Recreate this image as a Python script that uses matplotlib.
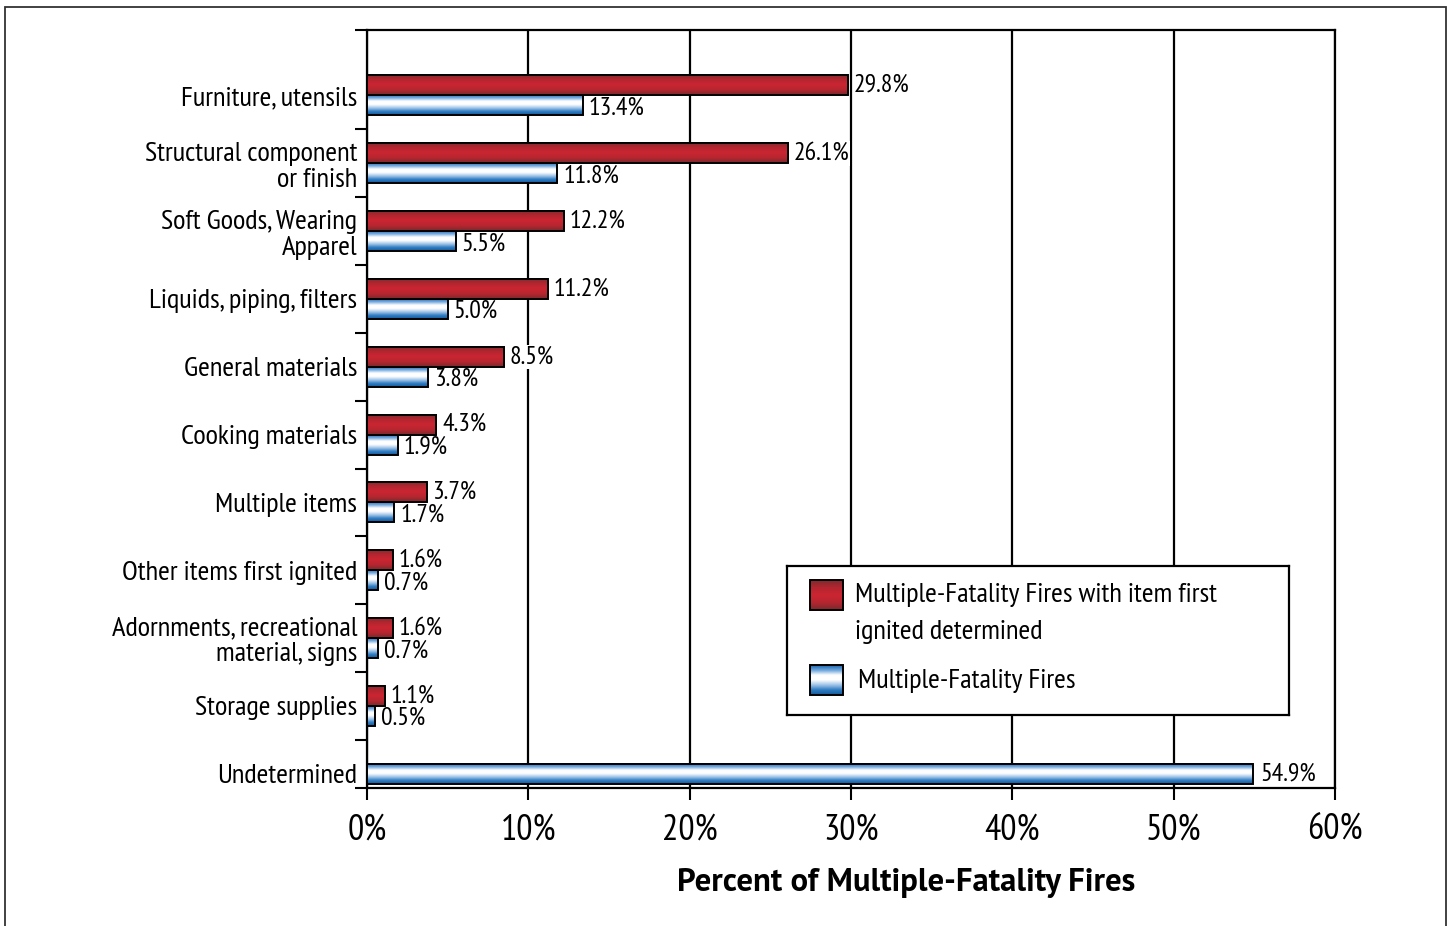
import numpy as np
import matplotlib.pyplot as plt
from matplotlib.colors import LinearSegmentedColormap
from matplotlib.patches import Rectangle

NARROW = ['PT Sans Narrow', 'Roboto Condensed', 'Archivo Narrow', 'Liberation Sans', 'DejaVu Sans']
BOLD = ['PT Sans', 'Open Sans', 'DejaVu Sans']
plt.rcParams['font.family'] = NARROW

# data
categories = ['Furniture, utensils', 'Structural component\nor finish',
              'Soft Goods, Wearing\nApparel', 'Liquids, piping, filters',
              'General materials', 'Cooking materials', 'Multiple items',
              'Other items first ignited', 'Adornments, recreational\nmaterial, signs',
              'Storage supplies', 'Undetermined']
with_item = [29.8, 26.1, 12.2, 11.2, 8.5, 4.3, 3.7, 1.6, 1.6, 1.1, np.nan]
all_fires = [13.4, 11.8, 5.5, 5.0, 3.8, 1.9, 1.7, 0.7, 0.7, 0.5, 54.9]
xticks = [0, 10, 20, 30, 40, 50, 60]
series_names = ['Multiple-Fatality Fires with item first\nignited determined',
                'Multiple-Fatality Fires']

red_cmap = LinearSegmentedColormap.from_list(
    'red', ['#7f2a30', '#b3262f', '#cc2532', '#b6262f', '#7a292e'])
blue_cmap = LinearSegmentedColormap.from_list(
    'blue', ['#1a66b0', '#6fa6dc', '#ffffff', '#ffffff', '#9fc3e8', '#2f7cc2', '#155a9c'])

GRAD = np.linspace(0, 1, 64).reshape(-1, 1)


def grad_box(ax, x0, width, y0, height, cmap):
    ax.imshow(GRAD, cmap=cmap, aspect='auto', interpolation='bicubic',
              extent=(x0, x0 + width, y0 + height, y0), zorder=3)
    ax.add_patch(Rectangle((x0, y0), width, height, fill=False,
                           ec='black', lw=1.4, zorder=4))


def value_label(ax, x, y, v):
    ax.text(x, y, f'{v:.1f}%', va='center', ha='left', fontsize=18.5, zorder=2.5,
            bbox=dict(fc='white', ec='none', pad=0.5))


fig = plt.figure(figsize=(14.5, 9.26), dpi=100)
ax = fig.add_axes([367 / 1450, 1 - 788 / 926, 968 / 1450, 758 / 926])

h = 0.295
pos = np.arange(len(categories))
for i, (r, b) in enumerate(zip(with_item, all_fires)):
    if np.isnan(r):
        grad_box(ax, 0, b, pos[i] - h / 2, h, blue_cmap)
        value_label(ax, b + 0.5, pos[i], b)
    else:
        grad_box(ax, 0, r, pos[i] - h, h, red_cmap)
        grad_box(ax, 0, b, pos[i], h, blue_cmap)
        value_label(ax, r + 0.35, pos[i] - h / 2, r)
        value_label(ax, b + 0.35, pos[i] + h / 2 + 0.04, b)

ylo, yhi = -0.965, 10.21
ax.set_xlim(0, 60)
ax.set_ylim(yhi, ylo)

ax.set_xticks(xticks)
ax.set_xticklabels([f'{t}%' for t in xticks], fontsize=26)
ax.set_yticks(pos)
ax.set_yticklabels(categories, fontsize=20.5, linespacing=1.1)
ax.set_yticks([ylo] + list(pos[:-1] + 0.5) + [yhi], minor=True)
ax.tick_params(axis='y', which='major', length=0, pad=7)
ax.tick_params(axis='y', which='minor', length=8.6, width=1.5, direction='out')
ax.tick_params(axis='x', length=8.6, width=1.5, direction='out', pad=10)

ax.grid(True, axis='x', color='black', lw=1.6, zorder=1)
ax.set_axisbelow(True)
for s in ax.spines.values():
    s.set_linewidth(1.6)

# legend box drawn by hand (pixel units inside the box)
lax = fig.add_axes([787 / 1450, 1 - 715 / 926, 502 / 1450, 149 / 926], zorder=5)
lax.set_xlim(0, 502)
lax.set_ylim(149, 0)
lax.set_xticks([])
lax.set_yticks([])
for s in lax.spines.values():
    s.set_linewidth(1.6)
grad_box(lax, 23, 33, 14, 30, red_cmap)
grad_box(lax, 23, 33, 99, 30, blue_cmap)
lax.text(68, 47.5, series_names[0], va='center', ha='left', fontsize=20.5, linespacing=1.7)
lax.text(71, 115, series_names[1], va='center', ha='left', fontsize=20.5)

fig.text(906 / 1450, 1 - 883 / 926, 'Percent of Multiple-Fatality Fires',
         ha='center', va='center', fontsize=23.5, fontweight='bold', family=BOLD)

fig.add_artist(Rectangle((5 / 1450, -0.01), 1441 / 1450, 1 - 7 / 926 + 0.01,
                         transform=fig.transFigure, fill=False, ec='#333333', lw=1.3))

fig.savefig('out.png', dpi=100)
